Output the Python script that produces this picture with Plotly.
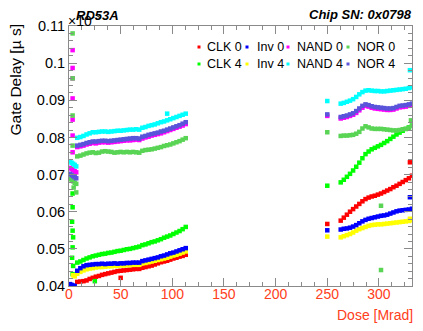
import plotly.graph_objects as go

# ---------------- data ----------------
DOSE_A = [8, 11, 14, 17, 20, 23, 26, 29, 32, 35, 38, 41, 44, 47, 50, 53, 56, 59,
          62, 65, 68, 71, 74, 77, 80, 83, 86, 89, 92, 95, 98, 101, 104, 107, 110, 113]
DOSE_B = [263, 266, 269, 272, 275, 278, 281, 284, 287, 290, 293, 296, 299, 302,
          305, 308, 311, 314, 317, 320, 323, 326, 329, 332]

CLK0_A = [0.0411, 0.0412, 0.0413, 0.0415, 0.0419, 0.0422, 0.0425, 0.0427, 0.0430, 0.0432,
          0.0434, 0.0436, 0.0438, 0.0440, 0.0441, 0.0442, 0.0443, 0.0444, 0.0445, 0.0446,
          0.0446, 0.0449, 0.0451, 0.0453, 0.0455, 0.0458, 0.0461, 0.0464, 0.0466, 0.0468,
          0.0471, 0.0474, 0.0476, 0.0479, 0.0481, 0.0484]
CLK0_B = [0.0576, 0.0584, 0.0592, 0.0600, 0.0607, 0.0614, 0.0621, 0.0628, 0.0634, 0.0638,
          0.0641, 0.0643, 0.0646, 0.0649, 0.0653, 0.0657, 0.0661, 0.0666, 0.0670, 0.0675,
          0.0680, 0.0685, 0.0690, 0.0697]
CLK0_XD = [50, 250, 330]
CLK0_XV = [0.0422, 0.0567, 0.0733]

INV0_A = [0.0441, 0.0448, 0.0453, 0.0456, 0.0457, 0.0458, 0.0459, 0.0459, 0.0460, 0.0459,
          0.0460, 0.0460, 0.0461, 0.0460, 0.0461, 0.0461, 0.0462, 0.0462, 0.0463, 0.0463,
          0.0463, 0.0467, 0.0469, 0.0471, 0.0473, 0.0475, 0.0477, 0.0480, 0.0482, 0.0485,
          0.0488, 0.0490, 0.0493, 0.0496, 0.0499, 0.0502]
INV0_B = [0.0552, 0.0554, 0.0555, 0.0557, 0.0560, 0.0564, 0.0569, 0.0574, 0.0578, 0.0581,
          0.0583, 0.0585, 0.0587, 0.0589, 0.0590, 0.0592, 0.0595, 0.0598, 0.0601, 0.0603,
          0.0604, 0.0605, 0.0606, 0.0608]
INV0_XD = [1, 2.5, 4, 5.5, 250, 330]
INV0_XV = [0.0405, 0.0403, 0.0401, 0.0400, 0.0550, 0.0639]

NAND0_A = [0.0774, 0.0776, 0.0778, 0.0781, 0.0783, 0.0785, 0.0784, 0.0786, 0.0787, 0.0787,
           0.0786, 0.0787, 0.0788, 0.0789, 0.0790, 0.0791, 0.0792, 0.0792, 0.0793, 0.0794,
           0.0793, 0.0797, 0.0800, 0.0802, 0.0805, 0.0807, 0.0809, 0.0811, 0.0814, 0.0817,
           0.0820, 0.0823, 0.0826, 0.0829, 0.0832, 0.0836]
NAND0_B = [0.0851, 0.0853, 0.0855, 0.0858, 0.0861, 0.0866, 0.0873, 0.0880, 0.0885, 0.0883,
           0.0880, 0.0878, 0.0877, 0.0876, 0.0875, 0.0874, 0.0874, 0.0875, 0.0878, 0.0881,
           0.0882, 0.0883, 0.0885, 0.0887]
NAND0_XD = [1, 2.5, 4, 5.5, 7, 3.5, 3.5, 3.5, 3.5, 3.5, 3.5, 3.5, 250]
NAND0_XV = [0.0718, 0.0715, 0.0712, 0.0709, 0.0706, 0.1035, 0.0987, 0.0959, 0.0905,
            0.0848, 0.0805, 0.0760, 0.0858]

NOR0_A = [0.0749, 0.0751, 0.0754, 0.0757, 0.0759, 0.0760, 0.0758, 0.0759, 0.0762, 0.0763,
          0.0762, 0.0761, 0.0759, 0.0760, 0.0761, 0.0760, 0.0761, 0.0760, 0.0761, 0.0760,
          0.0759, 0.0764, 0.0766, 0.0767, 0.0768, 0.0770, 0.0772, 0.0774, 0.0777, 0.0779,
          0.0781, 0.0784, 0.0787, 0.0790, 0.0794, 0.0798]
NOR0_B = [0.0804, 0.0805, 0.0805, 0.0806, 0.0807, 0.0810, 0.0815, 0.0824, 0.0830, 0.0827,
          0.0824, 0.0823, 0.0823, 0.0823, 0.0822, 0.0821, 0.0820, 0.0819, 0.0819, 0.0820,
          0.0822, 0.0823, 0.0826, 0.0831]
NOR0_XD = [3.5, 3.5, 3.5, 3.5, 1, 2.5, 4, 5.5, 7, 4.5, 7, 250, 302, 302, 331]
NOR0_XV = [0.1080, 0.0959, 0.0859, 0.0778, 0.0689, 0.0686, 0.0682, 0.0678, 0.0675,
           0.0665, 0.0652, 0.0814, 0.0616, 0.0443, 0.0846]

CLK4_A = [0.0463, 0.0466, 0.0470, 0.0474, 0.0477, 0.0480, 0.0482, 0.0484, 0.0486, 0.0487,
          0.0489, 0.0490, 0.0492, 0.0494, 0.0495, 0.0497, 0.0499, 0.0500, 0.0502, 0.0504,
          0.0506, 0.0510, 0.0512, 0.0515, 0.0518, 0.0520, 0.0523, 0.0526, 0.0530, 0.0533,
          0.0536, 0.0540, 0.0544, 0.0548, 0.0553, 0.0559]
CLK4_B = [0.0679, 0.0686, 0.0694, 0.0702, 0.0711, 0.0721, 0.0732, 0.0744, 0.0755, 0.0762,
          0.0768, 0.0772, 0.0776, 0.0780, 0.0785, 0.0790, 0.0796, 0.0802, 0.0808, 0.0813,
          0.0818, 0.0823, 0.0827, 0.0832]
CLK4_XD = [3.5, 3.5, 3, 3.5, 4, 3.5, 3, 4, 3.5, 25, 250]
CLK4_XV = [0.0649, 0.0612, 0.0573, 0.0549, 0.0531, 0.0504, 0.0476, 0.0454, 0.0432,
           0.0413, 0.0670]

INV4_A = [0.0433, 0.0438, 0.0442, 0.0445, 0.0447, 0.0448, 0.0450, 0.0451, 0.0451, 0.0452,
          0.0453, 0.0453, 0.0454, 0.0454, 0.0455, 0.0455, 0.0456, 0.0456, 0.0457, 0.0457,
          0.0457, 0.0461, 0.0462, 0.0464, 0.0466, 0.0468, 0.0470, 0.0472, 0.0474, 0.0476,
          0.0479, 0.0482, 0.0484, 0.0487, 0.0490, 0.0493]
INV4_B = [0.0531, 0.0534, 0.0537, 0.0540, 0.0544, 0.0549, 0.0553, 0.0556, 0.0559, 0.0562,
          0.0564, 0.0565, 0.0566, 0.0566, 0.0567, 0.0568, 0.0569, 0.0570, 0.0571, 0.0572,
          0.0573, 0.0574, 0.0575, 0.0577]
INV4_XD = [4, 5.5, 250, 330]
INV4_XV = [0.0429, 0.0426, 0.0533, 0.0581]

NAND4_A = [0.0799, 0.0801, 0.0804, 0.0808, 0.0811, 0.0814, 0.0814, 0.0815, 0.0816, 0.0816,
           0.0815, 0.0816, 0.0817, 0.0818, 0.0818, 0.0819, 0.0820, 0.0821, 0.0821, 0.0822,
           0.0821, 0.0826, 0.0828, 0.0831, 0.0833, 0.0835, 0.0838, 0.0841, 0.0843, 0.0846,
           0.0849, 0.0852, 0.0855, 0.0858, 0.0861, 0.0864]
NAND4_B = [0.0891, 0.0893, 0.0896, 0.0899, 0.0903, 0.0909, 0.0916, 0.0922, 0.0926, 0.0927,
           0.0926, 0.0925, 0.0925, 0.0924, 0.0924, 0.0925, 0.0926, 0.0927, 0.0928, 0.0929,
           0.0930, 0.0931, 0.0933, 0.0935]
NAND4_XD = [1, 2.5, 4, 5.5, 7, 95, 250, 330]
NAND4_XV = [0.0736, 0.0732, 0.0729, 0.0726, 0.0722, 0.0864, 0.0898, 0.0981]

NOR4_A = [0.0778, 0.0780, 0.0782, 0.0785, 0.0787, 0.0789, 0.0789, 0.0790, 0.0791, 0.0791,
          0.0790, 0.0791, 0.0792, 0.0793, 0.0794, 0.0795, 0.0796, 0.0797, 0.0798, 0.0798,
          0.0797, 0.0802, 0.0804, 0.0807, 0.0809, 0.0811, 0.0813, 0.0816, 0.0818, 0.0821,
          0.0824, 0.0827, 0.0830, 0.0833, 0.0837, 0.0841]
NOR4_B = [0.0855, 0.0857, 0.0859, 0.0862, 0.0865, 0.0871, 0.0878, 0.0885, 0.0889, 0.0887,
          0.0884, 0.0882, 0.0881, 0.0880, 0.0879, 0.0878, 0.0878, 0.0879, 0.0882, 0.0885,
          0.0886, 0.0887, 0.0889, 0.0891]
NOR4_XD = [1, 2.5, 4, 5.5, 7, 250]
NOR4_XV = [0.0702, 0.0699, 0.0696, 0.0693, 0.0690, 0.0862]

X_TICKS = [0, 50, 100, 150, 200, 250, 300]
Y_TICKS = [0.04, 0.05, 0.06, 0.07, 0.08, 0.09, 0.10, 0.11]
Y_LABELS = ["0.04", "0.05", "0.06", "0.07", "0.08", "0.09", "0.1", "0.11"]

# ---------------- figure ----------------
FONT = "Liberation Sans, Arial, Helvetica, sans-serif"
AXIS_GREY = "#8a8a8a"
ORANGE = "#ff4020"

# (name, colour, A, B, extra doses, extra values, legend column, legend row)
series = [
    ("CLK 0", "#ff0000", CLK0_A, CLK0_B, CLK0_XD, CLK0_XV, 0, 0),
    ("CLK 4", "#00ff00", CLK4_A, CLK4_B, CLK4_XD, CLK4_XV, 0, 1),
    ("Inv 4", "#ffff00", INV4_A, INV4_B, INV4_XD, INV4_XV, 1, 1),
    ("Inv 0", "#0000ff", INV0_A, INV0_B, INV0_XD, INV0_XV, 1, 0),
    ("NAND 0", "#ff00ff", NAND0_A, NAND0_B, NAND0_XD, NAND0_XV, 2, 0),
    ("NOR 0", "#59d454", NOR0_A, NOR0_B, NOR0_XD, NOR0_XV, 3, 0),
    ("NAND 4", "#00ffff", NAND4_A, NAND4_B, NAND4_XD, NAND4_XV, 2, 1),
    ("NOR 4", "#5954d9", NOR4_A, NOR4_B, NOR4_XD, NOR4_XV, 3, 1),
]

fig = go.Figure()
for name, col, a, b, xd, xv, c, r in series:
    fig.add_trace(go.Scatter(
        x=DOSE_A + DOSE_B + xd,
        y=a + b + xv,
        mode="markers",
        name=name,
        showlegend=False,
        marker=dict(symbol="square", size=4.5, color=col, line=dict(width=0)),
    ))

# the page body has an 8px margin: page px -> plot-area paper coords
def px_x(px):
    return (px - 69) / 343.0

def px_y(py):
    return (286 - py) / 260.0

fig.update_layout(
    width=407, height=315,
    margin=dict(l=61, r=3, t=18, b=37, pad=0),
    paper_bgcolor="white", plot_bgcolor="white",
    font=dict(family=FONT, size=14, color="black"),
    showlegend=False,
    xaxis=dict(
        range=[0, 332], tickmode="array", tickvals=X_TICKS,
        ticks="inside", ticklen=8, tickwidth=1, tickcolor=AXIS_GREY,
        showline=True, linecolor=AXIS_GREY, linewidth=1, mirror="ticks",
        showgrid=False, zeroline=False, ticklabelstandoff=-5,
        tickfont=dict(family=FONT, size=14, color=ORANGE),
        minor=dict(tick0=0, dtick=12.5, ticks="inside", ticklen=4,
                   tickcolor=AXIS_GREY, showgrid=False),
    ),
    yaxis=dict(
        range=[0.04, 0.11], tickmode="array", tickvals=Y_TICKS, ticktext=Y_LABELS,
        ticks="inside", ticklen=8, tickwidth=1, tickcolor=AXIS_GREY,
        showline=True, linecolor=AXIS_GREY, linewidth=1, mirror="ticks",
        showgrid=False, zeroline=False,
        tickfont=dict(family=FONT, size=14.5, color="black"),
        minor=dict(tick0=0.04, dtick=0.002, ticks="inside", ticklen=4,
                   tickcolor=AXIS_GREY, showgrid=False),
    ),
)

LEG_MARK_X = [199, 247, 288, 348]
LEG_TEXT_X = [205, 255, 295, 355]
LEG_ROW_Y = [47, 64]

annotations = [
    dict(text="×10<sup>-3</sup>", x=px_x(66), y=px_y(20), xanchor="left", yanchor="middle",
         font=dict(family=FONT, size=14, color="black")),
    dict(text="<b><i>RD53A</i></b>", x=px_x(74), y=px_y(16), xanchor="left", yanchor="middle",
         font=dict(family=FONT, size=13, color="black")),
    dict(text="<b><i>Chip SN: 0x0798</i></b>", x=px_x(414), y=px_y(15), xanchor="right",
         yanchor="middle", font=dict(family=FONT, size=13, color="black")),
    dict(text="Gate Delay [µ s]", x=px_x(15), y=px_y(22), xanchor="center", yanchor="top",
         textangle=-90, font=dict(family=FONT, size=15.5, color="black")),
    dict(text="Dose [Mrad]", x=px_x(415), y=px_y(315), xanchor="right", yanchor="middle",
         font=dict(family=FONT, size=14, color=ORANGE)),
]
shapes = []
for name, col, a, b, xd, xv, c, r in series:
    annotations.append(dict(text=name, x=px_x(LEG_TEXT_X[c]), y=px_y(LEG_ROW_Y[r]),
                            xanchor="left", yanchor="middle",
                            font=dict(family=FONT, size=12.5, color="black")))
    mx, my = LEG_MARK_X[c], LEG_ROW_Y[r]
    shapes.append(dict(type="rect", xref="paper", yref="paper",
                       x0=px_x(mx - 1.5), x1=px_x(mx + 1.5),
                       y0=px_y(my + 1.5), y1=px_y(my - 1.5),
                       fillcolor=col, line=dict(width=0)))
for a in annotations:
    a.update(xref="paper", yref="paper", showarrow=False)
fig.update_layout(annotations=annotations, shapes=shapes)

fig.write_html("out.html")
